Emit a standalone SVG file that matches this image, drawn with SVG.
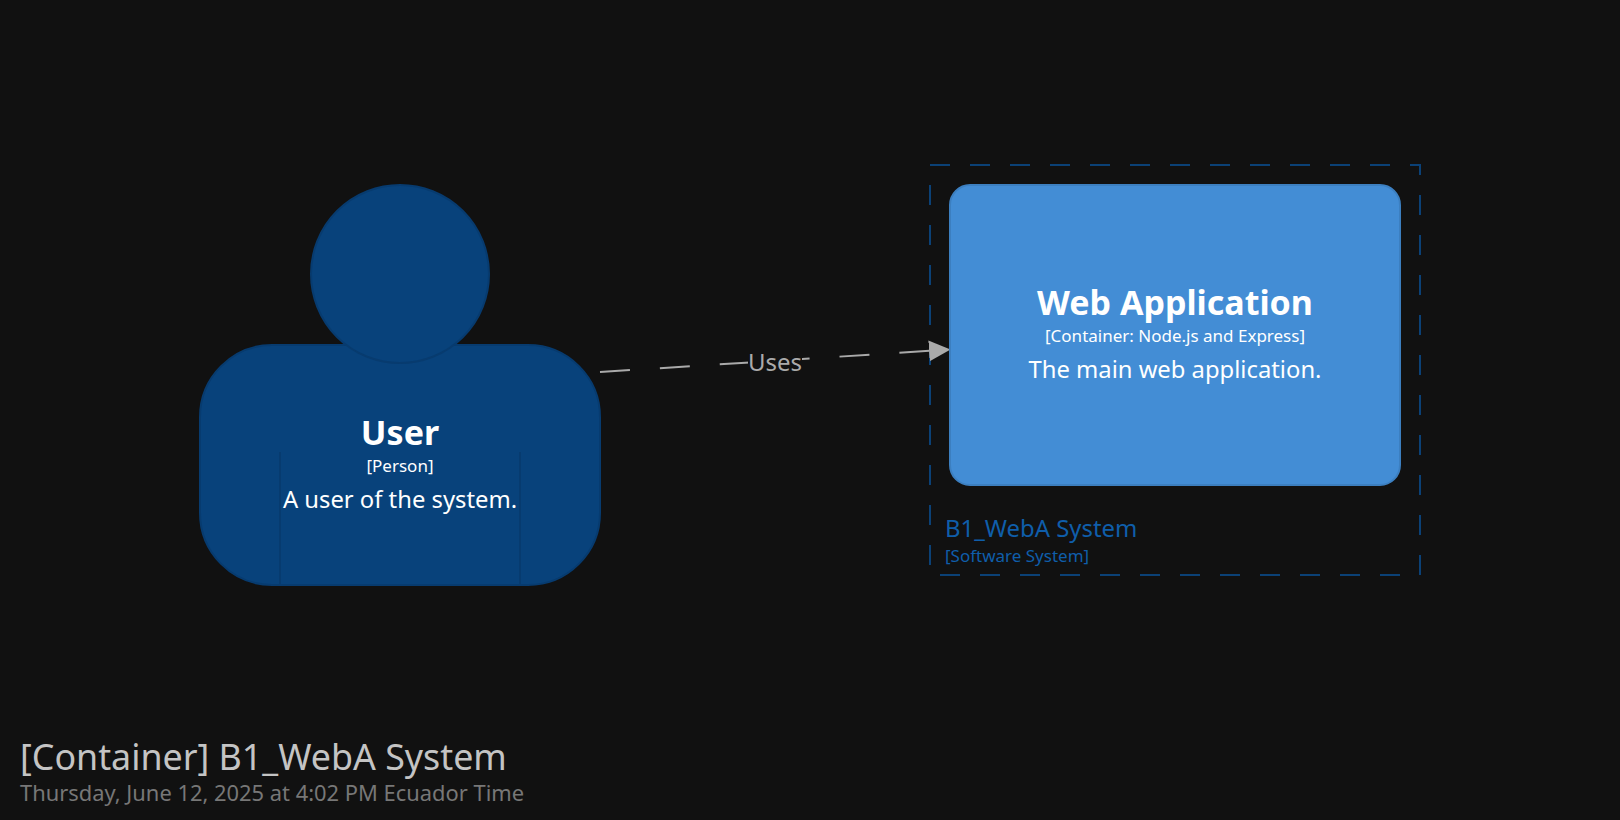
<svg xmlns="http://www.w3.org/2000/svg" width="1620" height="820" viewBox="0 0 1620 820">
<style>
text{font-family:"Noto Sans","Open Sans","Liberation Sans",sans-serif}
.m{text-anchor:middle;fill:#fff}
.n{font-size:34px;font-weight:700}
.t{font-size:17px}
.d{font-size:23.8px}
.p{fill:#08427b;stroke:#073b6f;stroke-width:2}
</style>
<defs><marker id="arrow" markerUnits="userSpaceOnUse" markerWidth="22" markerHeight="22" refX="21.5" refY="11" orient="auto"><path d="M0 0.5L21.5 11L0 21.5Z" fill="#aaaaaa"/></marker></defs>
<rect width="1620" height="820" fill="#111111"/>
<g id="boundary-b1-weba">
<rect x="930" y="165" width="490" height="410" fill="none" stroke="#0b4176" stroke-width="2" stroke-dasharray="20 20"/>
<text x="945" y="537" font-size="23.9" fill="#0f5eaa">B1_WebA System</text>
<text x="945" y="561.5" font-size="17" fill="#0f5eaa">[Software System]</text>
</g>
<g id="connectors">
<path d="M600 372L950.5 349.5" fill="none" stroke="#aaaaaa" stroke-width="2" stroke-dasharray="30 30" marker-end="url(#arrow)"/>
<rect x="748" y="345" width="54" height="36" fill="#111111"/>
<text x="775" y="371" font-size="24" text-anchor="middle" fill="#aaaaaa">Uses</text>
</g>
<g id="node-user">
<rect class="p" x="200" y="345" width="400" height="240" rx="72" ry="72"/>
<path d="M280 452V585M520 452V585" fill="none" stroke="#073b6f" stroke-width="2"/>
<circle class="p" cx="400" cy="274" r="89"/>
<text class="m n" x="400" y="445">User</text>
<text class="m t" x="400" y="471.5">[Person]</text>
<text class="m d" x="400" y="508">A user of the system.</text>
</g>
<g id="node-web-application">
<rect x="950" y="185" width="450" height="300" rx="20" ry="20" fill="#438dd5" stroke="#3c7fc0" stroke-width="2"/>
<text class="m n" x="1175" y="315">Web Application</text>
<text class="m t" x="1175" y="341.5">[Container: Node.js and Express]</text>
<text class="m d" x="1175" y="378">The main web application.</text>
</g>
<g id="title">
<text x="20" y="770" font-size="35.8" fill="#c4c4c4">[Container] B1_WebA System</text>
<text x="20" y="801" font-size="21.9" fill="#777777">Thursday, June 12, 2025 at 4:02 PM Ecuador Time</text>
</g>
</svg>
